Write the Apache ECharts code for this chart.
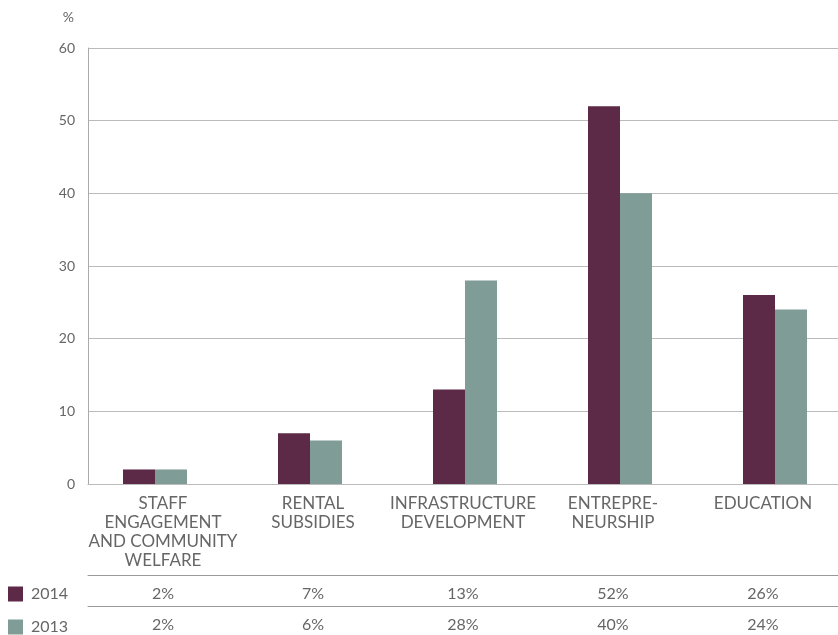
<!DOCTYPE html>
<html>
<head>
<meta charset="utf-8">
<script src="https://cdn.jsdelivr.net/npm/echarts@6/dist/echarts.min.js"></script>
<style>
html,body{margin:0;padding:0;background:#fff;}
#chart{width:838px;height:635px;}
</style>
</head>
<body>
<div id="chart"></div>
<script>
var categories = ['STAFF\nENGAGEMENT\nAND COMMUNITY\nWELFARE', 'RENTAL\nSUBSIDIES', 'INFRASTRUCTURE\nDEVELOPMENT', 'ENTREPRE-\nNEURSHIP', 'EDUCATION'];
var seriesNames = ['2014', '2013'];
var values2014 = [2, 7, 13, 52, 26];
var values2013 = [2, 6, 28, 40, 24];
var yMin = 0, yMax = 60, yStep = 10;
var yUnit = '%';

var FONT = 'Lato';
var TXT = '#666';
var c2014 = '#5c2946';
var c2013 = '#7f9c97';

function pct(v){ return v + '%'; }
// bars sit on a slightly wider category pitch than the labels (as in the original artwork)
var barGridLeft = 77.5, barPitch = 155, chartW = 838;
function indexed(arr){ return arr.map(function(v, i){ return [i, v]; }); }

var chart = echarts.init(document.getElementById('chart'), null, {renderer:'canvas'});
chart.setOption({
  animation: false,
  textStyle: {fontFamily: FONT},
  legend: {
    data: seriesNames,
    orient: 'vertical',
    left: 8, top: 586, padding: 0,
    itemWidth: 15, itemHeight: 15, itemGap: 17,
    icon: 'rect',
    textStyle: {color: TXT, fontSize: 16, fontFamily: FONT, padding: [0,0,0,3]}
  },
  grid: [
    {left: 88, right: 0, top: 48, bottom: 151},
    {left: barGridLeft, right: 0, top: 48, bottom: 151}
  ],
  xAxis: [
    {gridIndex: 0, type: 'category', data: categories,
     axisLine: {lineStyle: {color: '#bbb'}}, axisTick: {show: false},
     axisLabel: {color: TXT, fontSize: 17, lineHeight: 19, margin: 10, interval: 0, fontFamily: FONT}},
    {gridIndex: 0, type: 'category', data: values2014.map(pct), position: 'bottom', offset: 91,
     axisLine: {lineStyle: {color: '#999'}}, axisTick: {show: false},
     axisLabel: {color: TXT, fontSize: 16, margin: 11, interval: 0, fontFamily: FONT}},
    {gridIndex: 0, type: 'category', data: values2013.map(pct), position: 'bottom', offset: 122,
     axisLine: {lineStyle: {color: '#999'}}, axisTick: {show: false},
     axisLabel: {color: TXT, fontSize: 16, margin: 11, interval: 0, fontFamily: FONT}},
    {gridIndex: 1, type: 'value', min: -0.5, max: -0.5 + (chartW - barGridLeft) / barPitch, show: false, splitLine: {show: false}}
  ],
  yAxis: [
    {gridIndex: 0, type: 'value', min: yMin, max: yMax, interval: yStep,
     name: yUnit, nameLocation: 'end', nameGap: 24,
     nameTextStyle: {color: TXT, fontSize: 14, align: 'right', padding: [0, 14, 0, 0], fontFamily: FONT},
     axisLine: {show: true, lineStyle: {color: '#aaa'}}, axisTick: {show: false},
     axisLabel: {color: TXT, fontSize: 14, margin: 13, fontFamily: FONT},
     splitLine: {lineStyle: {color: '#bbb'}}},
    {gridIndex: 1, type: 'value', min: yMin, max: yMax, interval: yStep, show: false, splitLine: {show: false}}
  ],
  series: [
    {name: seriesNames[0], type: 'bar', xAxisIndex: 3, yAxisIndex: 1, data: indexed(values2014),
     barWidth: 32, barGap: '0%', itemStyle: {color: c2014}},
    {name: seriesNames[1], type: 'bar', xAxisIndex: 3, yAxisIndex: 1, data: indexed(values2013),
     barWidth: 32, barGap: '0%', itemStyle: {color: c2013}}
  ]
});
</script>
</body>
</html>
